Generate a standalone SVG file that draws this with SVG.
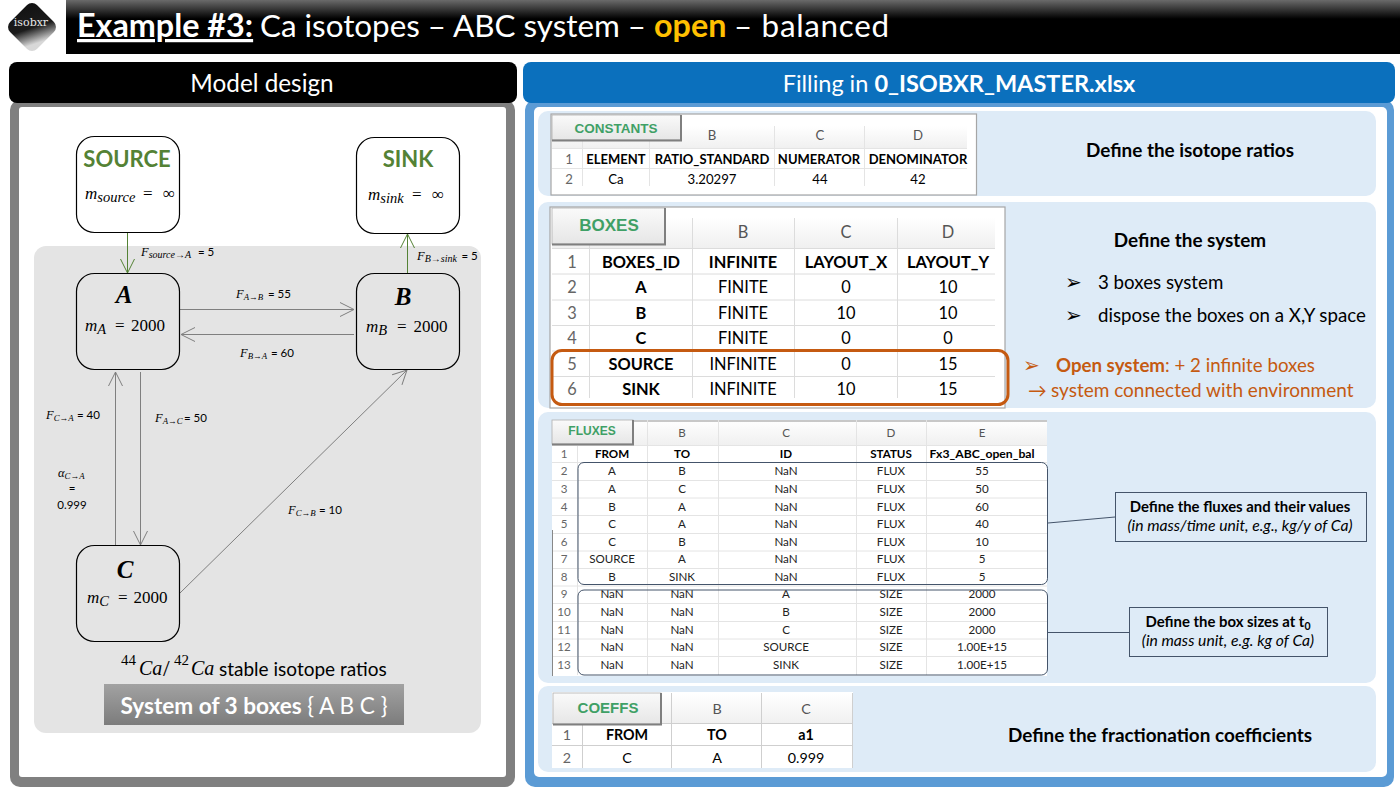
<svg xmlns="http://www.w3.org/2000/svg" width="1400" height="788" viewBox="0 0 1400 788">
<style>
text{font-family:Lato,"Open Sans","Liberation Sans",sans-serif;fill:#000}
.m{font-family:"Liberation Serif","DejaVu Serif",serif;font-style:italic}
.n{font-family:"Liberation Serif","DejaVu Serif",serif;font-style:normal}
.box{fill:#fff;stroke:#000;stroke-width:1.2}
.boxg{fill:#e4e4e4;stroke:#000;stroke-width:1.2}
.gr{font-size:22px;font-weight:700;fill:#548235;text-anchor:middle}
.big{font-family:"Liberation Serif",serif;font-style:italic;font-weight:700;font-size:25px;text-anchor:middle}
.mv{font-size:17px}
.sb{font-size:14.5px}
.lab{font-size:12.5px}
.lab2{font-size:10px}
.lab3{font-size:8.8px}
.num{font-size:11.5px;font-style:normal;font-family:Lato,sans-serif}
.ln{stroke:#7f7f7f;stroke-width:1;fill:none}
.lg{stroke:#548235;stroke-width:1;fill:none}
.sec{fill:#deebf7}
.sheet{fill:#fff;stroke:#a6a6a6;stroke-width:1.2}
.grid{stroke:#e4e4e4;stroke-width:1;fill:none}
.tabr{fill:url(#tabg);stroke:#b0b0b0;stroke-width:.8}
.tabe{fill:none;stroke:#7f7f7f;stroke-width:2}
.tname{font-family:"Liberation Sans",sans-serif;font-weight:700;fill:#3fa066;text-anchor:middle}
.t1 text{font-size:13.2px;text-anchor:middle}
.t1 text.b{font-size:13px}
.t2 text{font-size:16.4px;text-anchor:middle}
.t3 text{font-size:11.6px;text-anchor:middle;fill:#222}
.t4 text{font-size:14.3px;text-anchor:middle}
.b{font-weight:700;fill:#000!important}
.hd{fill:#555!important}
.rn{fill:#666!important}
.def{font-size:18.9px;font-weight:700;text-anchor:middle}
.rtx{font-size:18.7px}
.or{fill:#c55a11;font-size:18.7px}
.blt{font-family:"DejaVu Sans",sans-serif;font-size:20px}
.call{fill:#deebf7;stroke:#44546a;stroke-width:1}
.cl{stroke:#44546a;stroke-width:1;fill:none}
.grp{fill:none;stroke:#44546a;stroke-width:1}
.cb{font-size:14.9px;font-weight:700;text-anchor:middle}
.ci{font-size:15.7px;font-style:italic;text-anchor:middle}
</style>
<defs>
<linearGradient id="tg" x1="0" y1="0" x2="0" y2="1"><stop offset="0" stop-color="#6a6a6a"/><stop offset=".35" stop-color="#000"/><stop offset="1" stop-color="#000"/></linearGradient>
<linearGradient id="lg" x1="0" y1="0" x2="1" y2=".5"><stop offset="0" stop-color="#111"/><stop offset=".62" stop-color="#1c1c1c"/><stop offset="1" stop-color="#d8d8d8"/></linearGradient>
<linearGradient id="sg" x1="0" y1="0" x2="0" y2="1"><stop offset="0" stop-color="#a2a2a2"/><stop offset="1" stop-color="#7c7c7c"/></linearGradient>
<linearGradient id="tabg" x1="0" y1="0" x2="0" y2="1"><stop offset="0" stop-color="#fafafa"/><stop offset="1" stop-color="#e6e6e6"/></linearGradient>
<linearGradient id="hdg" x1="0" y1="0" x2="0" y2="1"><stop offset="0" stop-color="#fff"/><stop offset="1" stop-color="#f0f0f0"/></linearGradient>
<marker id="ag" markerUnits="userSpaceOnUse" markerWidth="18" markerHeight="18" refX="15" refY="9" orient="auto" overflow="visible"><path d="M1,2 L15,9 L1,16" fill="none" stroke="#7f7f7f" stroke-width="1"/></marker>
<marker id="agr" markerUnits="userSpaceOnUse" markerWidth="18" markerHeight="18" refX="15" refY="9" orient="auto" overflow="visible"><path d="M1,2 L15,9 L1,16" fill="none" stroke="#548235" stroke-width="1"/></marker>
</defs>

<rect width="1400" height="788" fill="#fff"/>

<g id="header">
<rect x="66" y="0" width="1334" height="54" fill="url(#tg)"/>
<text x="77" y="37" font-size="32.300" font-weight="700" text-decoration="underline" style="fill:#fff">Example #3:</text>
<text x="260" y="37" font-size="31.400" textLength="386" style="fill:#fff">Ca isotopes – ABC system –</text>
<text x="654" y="37" font-size="32.300" font-weight="700" style="fill:#ffc000">open</text>
<text x="734" y="37" font-size="31.400" textLength="155" style="fill:#fff">– balanced</text>
</g>
<g id="logo">
<rect x="13" y="8" width="38" height="38" rx="7" fill="url(#lg)" transform="rotate(45 32 27)"/>
<text x="31" y="26" font-size="11" text-anchor="middle" style="fill:#e8e8e8;font-family:'DejaVu Serif',serif">isobxr</text>
</g>

<g id="left-panel">
<rect x="10" y="100" width="505" height="687" rx="10" fill="#808080"/>
<rect x="9" y="62" width="508" height="41" rx="8" fill="#000"/>
<text x="262" y="92" font-size="24.300" text-anchor="middle" style="fill:#fff">Model design</text>
<rect x="19" y="107" width="487" height="670" rx="3" fill="#fff"/>
<rect x="34" y="246" width="447" height="487" rx="12" fill="#e4e4e4"/>
</g>

<g id="connectors">
<line class="lg" x1="127.500" y1="232" x2="127.500" y2="273" marker-end="url(#agr)"/>
<line class="lg" x1="407.500" y1="273" x2="407.500" y2="234" marker-end="url(#agr)"/>
<line class="ln" x1="180" y1="309.500" x2="354" y2="309.500" marker-end="url(#ag)"/>
<line class="ln" x1="354" y1="334.500" x2="181" y2="334.500" marker-end="url(#ag)"/>
<line class="ln" x1="115.500" y1="545" x2="115.500" y2="372" marker-end="url(#ag)"/>
<line class="ln" x1="140.500" y1="372" x2="140.500" y2="545" marker-end="url(#ag)"/>
<line class="ln" x1="180" y1="593" x2="407" y2="370" marker-end="url(#ag)"/>
</g>

<g id="node-source">
<rect class="box" x="76.500" y="136.500" width="103" height="96" rx="18"/>
<text class="gr" x="127" y="167">SOURCE</text>
<text class="m mv" x="85" y="199">m<tspan class="sb" dy="3">source</tspan><tspan class="n" x="143" y="199">=</tspan><tspan class="n" x="163" y="199">∞</tspan></text>
</g>
<g id="node-sink">
<rect class="box" x="356.500" y="137.500" width="103" height="96" rx="18"/>
<text class="gr" x="408" y="167">SINK</text>
<text class="m mv" x="368" y="200">m<tspan class="sb" dy="3">sink</tspan><tspan class="n" x="412" y="200">=</tspan><tspan class="n" x="432" y="200">∞</tspan></text>
</g>
<g id="node-a">
<rect class="boxg" x="76.500" y="273.500" width="103" height="96" rx="18"/>
<text class="big" x="124" y="303">A</text>
<text class="m mv" x="85" y="331">m<tspan class="sb" dy="3">A</tspan><tspan class="n" x="115" y="331">=</tspan><tspan class="n" x="131" y="331">2000</tspan></text>
</g>
<g id="node-b">
<rect class="boxg" x="356.500" y="273.500" width="103" height="96" rx="18"/>
<text class="big" x="403" y="305">B</text>
<text class="m mv" x="366" y="332">m<tspan class="sb" dy="3">B</tspan><tspan class="n" x="397" y="332">=</tspan><tspan class="n" x="413.500" y="332">2000</tspan></text>
</g>
<g id="node-c">
<rect class="boxg" x="76.500" y="545.500" width="103" height="96" rx="18"/>
<text class="big" x="125" y="578">C</text>
<text class="m mv" x="87" y="603">m<tspan class="sb" dy="3">C</tspan><tspan class="n" x="118" y="603">=</tspan><tspan class="n" x="133.500" y="603">2000</tspan></text>
</g>

<g id="flux-labels">
<text class="m lab" x="141" y="256">F<tspan class="lab2" dy="2">source→A</tspan><tspan class="num" x="198" y="256">= 5</tspan></text>
<text class="m lab" x="417" y="260">F<tspan class="lab2" dy="2">B→sink</tspan><tspan class="num" x="461.500" y="260">= 5</tspan></text>
<text class="m lab" x="236" y="298">F<tspan class="lab3" dy="2">A→B</tspan><tspan class="num" x="268" y="298">= 55</tspan></text>
<text class="m lab" x="240" y="357">F<tspan class="lab3" dy="2">B→A</tspan><tspan class="num" x="271" y="357">= 60</tspan></text>
<text class="m lab" x="46" y="419">F<tspan class="lab3" dy="2">C→A</tspan><tspan class="num" x="77" y="419">= 40</tspan></text>
<text class="m lab" x="155" y="422">F<tspan class="lab3" dy="2">A→C</tspan><tspan class="num" x="184" y="422">= 50</tspan></text>
<text class="m lab" x="288" y="514">F<tspan class="lab3" dy="2">C→B</tspan><tspan class="num" x="319" y="514">= 10</tspan></text>
<text class="m lab" x="58" y="477">α<tspan class="lab3" dy="2">C→A</tspan></text>
<text class="num" x="72" y="492" text-anchor="middle">=</text>
<text class="num" x="72" y="509" text-anchor="middle">0.999</text>
</g>

<g id="system-caption">
<text class="n" x="121" y="665" font-size="15">44</text>
<text class="m" x="139" y="675" font-size="20">Ca</text>
<text class="n" x="163" y="676" font-size="24">/</text>
<text class="n" x="174" y="665" font-size="15">42</text>
<text class="m" x="191" y="675" font-size="20">Ca</text>
<text x="219" y="676" font-size="19">stable isotope ratios</text>
<rect x="104" y="684" width="300" height="41" fill="url(#sg)"/>
<text x="254" y="714" font-size="22.600" text-anchor="middle" style="fill:#fff"><tspan font-weight="700" style="fill:#fff">System of 3 boxes </tspan><tspan style="fill:#fff">{ A B C }</tspan></text>
</g>

<g id="right-panel">
<rect x="525" y="100" width="869" height="687" rx="10" fill="#5b9bd5"/>
<rect x="523" y="62" width="872" height="41" rx="8" fill="#0b70bd"/>
<text x="959" y="92" font-size="23.500" text-anchor="middle" style="fill:#fff">Filling in <tspan font-weight="700" style="fill:#fff">0_ISOBXR_MASTER.xlsx</tspan></text>
<rect x="534" y="107" width="853" height="670" rx="5" fill="#fff"/>
<rect class="sec" x="538" y="111" width="838" height="85" rx="10"/>
<rect class="sec" x="538" y="202" width="838" height="206" rx="10"/>
<rect class="sec" x="538" y="412" width="838" height="271" rx="10"/>
<rect class="sec" x="538" y="686" width="838" height="86" rx="10"/>
</g>

<g id="constants" class="t1">
<rect class="sheet" x="551" y="114" width="425.500" height="81"/>
<rect x="552" y="126" width="415" height="22" fill="url(#hdg)"/>
<path class="grid" d="M552 148.500H967M552 168.500H967M582.500 141V186M649.500 126V186M774.500 126V186M864.500 126V186"/>
<rect class="tabr" x="552" y="115" width="129" height="25"/>
<path class="tabe" d="M552 140.500H681V115"/>
<text class="tname" x="616" y="133" style="font-size:13.500px;fill:#3fa066">CONSTANTS</text>
<text class="hd" x="712" y="140">B</text><text class="hd" x="820" y="140">C</text><text class="hd" x="918" y="140">D</text>
<text class="rn" x="569" y="164">1</text><text class="rn" x="569" y="184">2</text>
<text class="b" x="616" y="164">ELEMENT</text><text class="b" x="712" y="164">RATIO_STANDARD</text><text class="b" x="819" y="164">NUMERATOR</text><text class="b" x="918" y="164">DENOMINATOR</text>
<text x="616" y="184">Ca</text><text x="712" y="184">3.20297</text><text x="820" y="184">44</text><text x="918" y="184">42</text>
</g>

<g id="boxes" class="t2">
<rect class="sheet" x="550" y="207" width="455" height="201"/>
<rect x="552" y="218" width="443" height="30" fill="url(#hdg)"/>
<path class="grid" d="M552 248.500H995M552 274H995M552 300H995M552 325.500H995M552 351H995M552 376.500H995M589.500 245V398M692.500 218V398M794.500 218V398M897.500 218V398" style="stroke:#dcdcdc"/>
<rect class="tabr" x="552" y="208" width="113" height="36"/>
<path class="tabe" d="M552 244.500H665V208"/>
<text class="tname" x="609" y="231" style="font-size:17px;fill:#3fa066">BOXES</text>
<text class="hd" x="743" y="238">B</text><text class="hd" x="846" y="238">C</text><text class="hd" x="948" y="238">D</text>
<text class="rn" x="572" y="268">1</text><text class="rn" x="572" y="293">2</text><text class="rn" x="572" y="319">3</text><text class="rn" x="572" y="344">4</text><text class="rn" x="572" y="370">5</text><text class="rn" x="572" y="395">6</text>
<text class="b" x="641" y="268">BOXES_ID</text><text class="b" x="743" y="268">INFINITE</text><text class="b" x="846" y="268">LAYOUT_X</text><text class="b" x="948" y="268">LAYOUT_Y</text>
<text class="b" x="641" y="293">A</text><text x="743" y="293">FINITE</text><text x="846" y="293">0</text><text x="948" y="293">10</text>
<text class="b" x="641" y="319">B</text><text x="743" y="319">FINITE</text><text x="846" y="319">10</text><text x="948" y="319">10</text>
<text class="b" x="641" y="344">C</text><text x="743" y="344">FINITE</text><text x="846" y="344">0</text><text x="948" y="344">0</text>
<text class="b" x="641" y="370">SOURCE</text><text x="743" y="370">INFINITE</text><text x="846" y="370">0</text><text x="948" y="370">15</text>
<text class="b" x="641" y="395">SINK</text><text x="743" y="395">INFINITE</text><text x="846" y="395">10</text><text x="948" y="395">15</text>
<rect x="552" y="350.500" width="456" height="54" rx="10" fill="none" stroke="#c55a11" stroke-width="3"/>
</g>

<g id="fluxes" class="t3">
<rect x="552" y="420" width="495" height="256" fill="#fff"/>
<rect x="552" y="420" width="495" height="25" fill="url(#hdg)"/>
<path d="M552 421H1047" stroke="#c8c8c8" stroke-width="2" fill="none"/>
<path class="grid" d="M552 445.500H1047M552 462.500H1047M552 480.500H1047M552 498H1047M552 515.500H1047M552 533.500H1047M552 551H1047M552 568.500H1047M552 586H1047M552 603.500H1047M552 621.500H1047M552 639H1047M552 656.500H1047M577.500 445V675M647.500 420V675M718.500 420V675M856.500 420V675M926.500 420V675"/>
<path d="M552.500 530V676" stroke="#888" stroke-width="1" fill="none"/>
<rect class="tabr" x="552" y="420" width="81" height="24"/>
<path class="tabe" d="M552 444.500H633V420"/>
<text class="tname" x="592" y="435" style="font-size:12px;fill:#3fa066">FLUXES</text>
<text class="hd" x="682" y="437">B</text><text class="hd" x="786" y="437">C</text><text class="hd" x="891" y="437">D</text><text class="hd" x="982" y="437">E</text>
<text class="rn" x="564" y="458">1</text><text class="rn" x="564" y="475">2</text><text class="rn" x="564" y="493">3</text><text class="rn" x="564" y="511">4</text><text class="rn" x="564" y="528">5</text><text class="rn" x="564" y="546">6</text><text class="rn" x="564" y="563">7</text><text class="rn" x="564" y="581">8</text><text class="rn" x="564" y="598">9</text><text class="rn" x="564" y="616">10</text><text class="rn" x="564" y="634">11</text><text class="rn" x="564" y="651">12</text><text class="rn" x="564" y="669">13</text>
<text class="b" x="612" y="458">FROM</text><text class="b" x="682" y="458">TO</text><text class="b" x="786" y="458">ID</text><text class="b" x="891" y="458">STATUS</text><text class="b" x="982" y="458" style="font-size:12.200px">Fx3_ABC_open_bal</text>
<text x="612" y="475">A</text><text x="682" y="475">B</text><text x="786" y="475">NaN</text><text x="891" y="475">FLUX</text><text x="982" y="475">55</text>
<text x="612" y="493">A</text><text x="682" y="493">C</text><text x="786" y="493">NaN</text><text x="891" y="493">FLUX</text><text x="982" y="493">50</text>
<text x="612" y="511">B</text><text x="682" y="511">A</text><text x="786" y="511">NaN</text><text x="891" y="511">FLUX</text><text x="982" y="511">60</text>
<text x="612" y="528">C</text><text x="682" y="528">A</text><text x="786" y="528">NaN</text><text x="891" y="528">FLUX</text><text x="982" y="528">40</text>
<text x="612" y="546">C</text><text x="682" y="546">B</text><text x="786" y="546">NaN</text><text x="891" y="546">FLUX</text><text x="982" y="546">10</text>
<text x="612" y="563">SOURCE</text><text x="682" y="563">A</text><text x="786" y="563">NaN</text><text x="891" y="563">FLUX</text><text x="982" y="563">5</text>
<text x="612" y="581">B</text><text x="682" y="581">SINK</text><text x="786" y="581">NaN</text><text x="891" y="581">FLUX</text><text x="982" y="581">5</text>
<text x="612" y="598">NaN</text><text x="682" y="598">NaN</text><text x="786" y="598">A</text><text x="891" y="598">SIZE</text><text x="982" y="598">2000</text>
<text x="612" y="616">NaN</text><text x="682" y="616">NaN</text><text x="786" y="616">B</text><text x="891" y="616">SIZE</text><text x="982" y="616">2000</text>
<text x="612" y="634">NaN</text><text x="682" y="634">NaN</text><text x="786" y="634">C</text><text x="891" y="634">SIZE</text><text x="982" y="634">2000</text>
<text x="612" y="651">NaN</text><text x="682" y="651">NaN</text><text x="786" y="651">SOURCE</text><text x="891" y="651">SIZE</text><text x="982" y="651">1.00E+15</text>
<text x="612" y="669">NaN</text><text x="682" y="669">NaN</text><text x="786" y="669">SINK</text><text x="891" y="669">SIZE</text><text x="982" y="669">1.00E+15</text>
<rect class="grp" x="578" y="462.500" width="469.500" height="122" rx="6"/>
<rect class="grp" x="578" y="590" width="469.500" height="85" rx="6"/>
</g>

<g id="coeffs" class="t4">
<rect x="552" y="692" width="301" height="76" fill="#fff"/>
<rect x="552" y="693" width="301" height="31" fill="url(#hdg)"/>
<path class="grid" d="M552 723.500H853M552 745.500H853M582.500 725V768M671.500 693V768M761.500 693V768M852.500 693V768" style="stroke:#cfcfcf"/>
<rect class="tabr" x="553" y="693" width="108" height="31"/>
<path class="tabe" d="M553 724.500H661V693"/>
<text class="tname" x="608" y="713" style="font-size:15px;fill:#3fa066">COEFFS</text>
<text class="hd" x="717" y="714">B</text><text class="hd" x="806" y="714">C</text>
<text class="rn" x="567" y="740">1</text><text class="rn" x="567" y="763">2</text>
<text class="b" x="627" y="740">FROM</text><text class="b" x="717" y="740">TO</text><text class="b" x="806" y="740">a1</text>
<text x="627" y="763">C</text><text x="717" y="763">A</text><text x="806" y="763">0.999</text>
</g>

<g id="annotations">
<text class="def" x="1190" y="156.500">Define the isotope ratios</text>
<text class="def" x="1190" y="247">Define the system</text>
<text class="blt" x="1065" y="289">➢</text>
<text class="rtx" x="1098" y="289">3 boxes system</text>
<text class="blt" x="1065" y="322">➢</text>
<text class="rtx" x="1098" y="322">dispose the boxes on a X,Y space</text>
<text class="blt" x="1023" y="372" style="fill:#c55a11">➢</text>
<text class="or" x="1056" y="372"><tspan font-weight="700" style="fill:#c55a11">Open system</tspan>: + 2 infinite boxes</text>
<text class="or" x="1028" y="397">→</text>
<text class="or" x="1051" y="397" style="font-size:19px">system connected with environment</text>
<text class="def" x="1160" y="742">Define the fractionation coefficients</text>
</g>

<g id="callout-fluxes">
<line class="cl" x1="1048" y1="523" x2="1115" y2="517"/>
<rect class="call" x="1115.500" y="492.500" width="251" height="49"/>
<text class="cb" x="1240" y="512">Define the fluxes and their values</text>
<text class="ci" x="1240" y="531">(in mass/time unit, e.g., kg/y of Ca)</text>
</g>
<g id="callout-sizes">
<line class="cl" x1="1048" y1="632.500" x2="1129" y2="632.500"/>
<rect class="call" x="1129.500" y="607.500" width="198" height="49"/>
<text class="cb" x="1228" y="627">Define the box sizes at t<tspan font-size="10.500" dy="3">0</tspan></text>
<text class="ci" x="1228" y="646">(in mass unit, e.g. kg of Ca)</text>
</g>
</svg>
